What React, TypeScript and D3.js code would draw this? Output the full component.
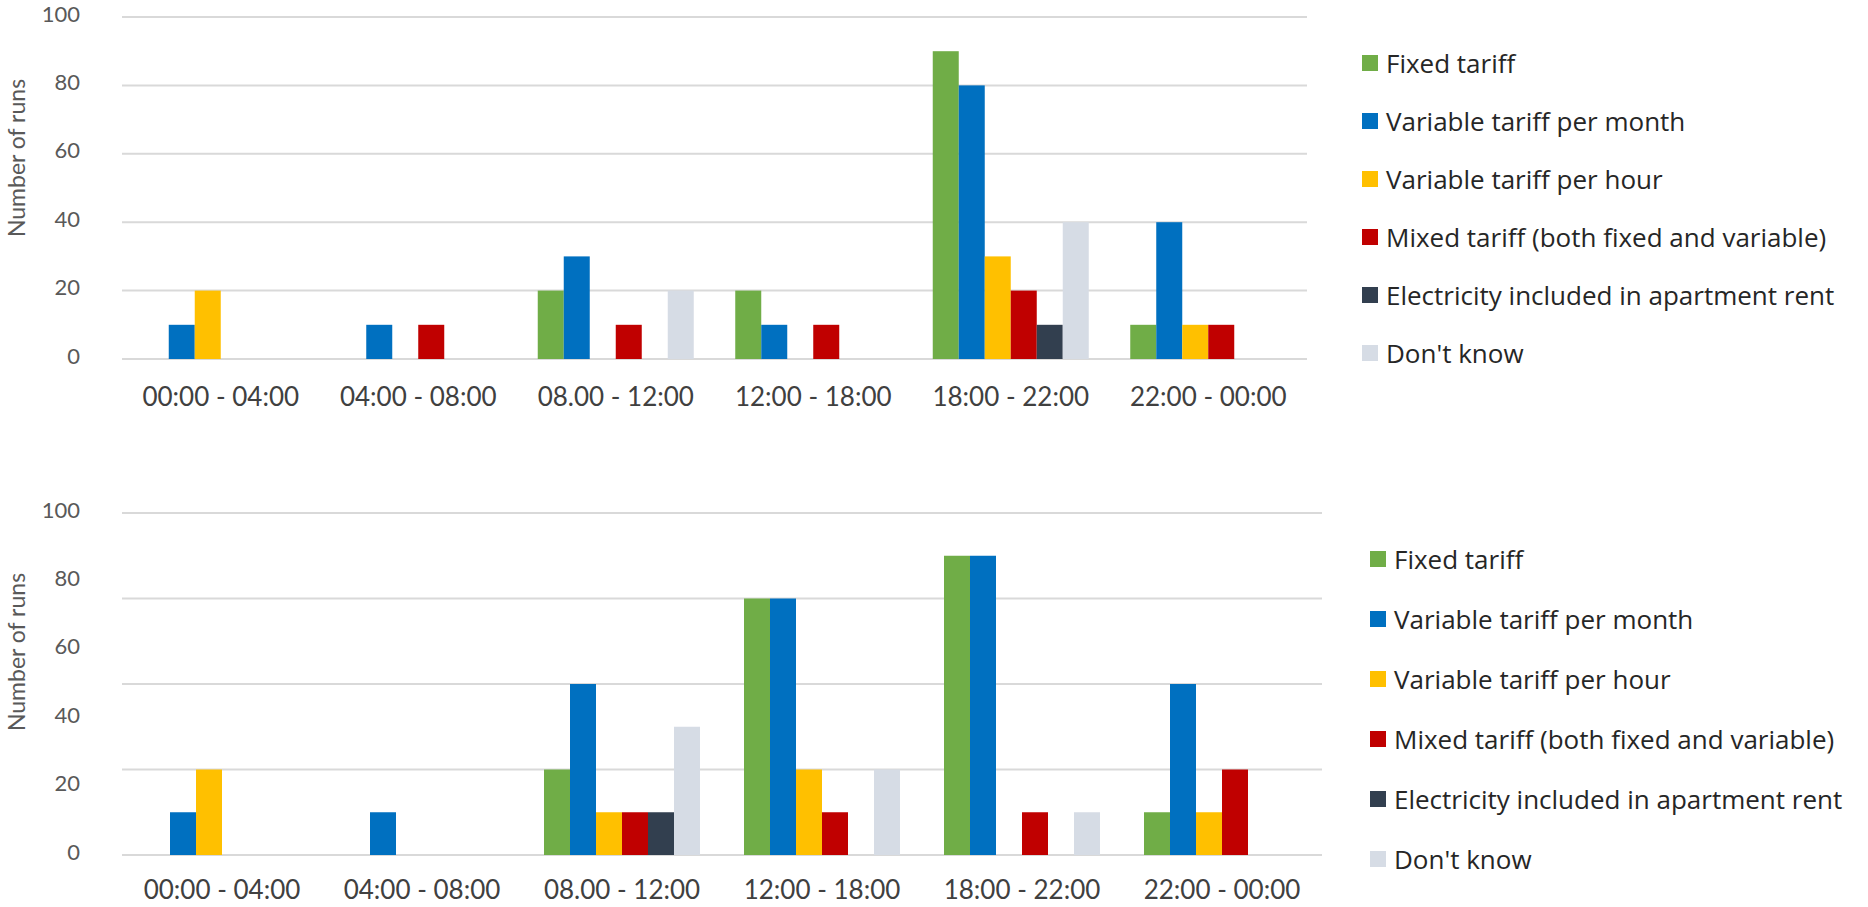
import React from "react";
import * as d3 from "d3";

const categories = ["00:00 - 04:00", "04:00 - 08:00", "08.00 - 12:00", "12:00 - 18:00", "18:00 - 22:00", "22:00 - 00:00"];
const seriesNames = [
  "Fixed tariff",
  "Variable tariff per month",
  "Variable tariff per hour",
  "Mixed tariff (both fixed and variable)",
  "Electricity included in apartment rent",
  "Don't know",
];
const seriesColors = ["#70AD47", "#0070C0", "#FFC000", "#C00000", "#323F4F", "#D6DCE5"];

// values per series, one per category (top chart)
const topFixed = [0, 0, 20, 20, 90, 10];
const topVarMonth = [10, 10, 30, 10, 80, 40];
const topVarHour = [20, 0, 0, 0, 30, 10];
const topMixed = [0, 10, 10, 10, 20, 10];
const topElectricity = [0, 0, 0, 0, 10, 0];
const topDontKnow = [0, 0, 20, 0, 40, 0];

// bottom chart
const botFixed = [0, 0, 25, 75, 87.5, 12.5];
const botVarMonth = [12.5, 12.5, 50, 75, 87.5, 50];
const botVarHour = [25, 0, 12.5, 25, 0, 12.5];
const botMixed = [0, 0, 12.5, 12.5, 12.5, 25];
const botElectricity = [0, 0, 12.5, 0, 0, 0];
const botDontKnow = [0, 0, 37.5, 25, 12.5, 0];

const tickLabels = [0, 20, 40, 60, 80, 100];
const topGridValues = [0, 20, 40, 60, 80, 100];
const botGridValues = [0, 25, 50, 75, 100];

const yAxisTitle = "Number of runs";

type ChartProps = {
  series: number[][];
  x0: number;
  x1: number;
  yBottom: number;
  yTop: number;
  gridValues: number[];
  labelY: number;
  titleY: number;
  legendX: number;
  legendY: number;
  legendStep: number;
};

const FONT = "Lato, 'Open Sans', sans-serif";
const LEGEND_FONT = "'Open Sans', Lato, sans-serif";

function Chart({ series, x0, x1, yBottom, yTop, gridValues, labelY, titleY, legendX, legendY, legendStep }: ChartProps) {
  const x = d3.scaleBand<string>().domain(categories).range([x0, x1]).padding(0);
  const y = d3.scaleLinear().domain([0, 100]).range([yBottom, yTop]);
  const barW = 26;
  const inner = d3
    .scaleBand<number>()
    .domain(d3.range(seriesNames.length))
    .range([0, barW * seriesNames.length])
    .padding(0);
  const groupOffset = (x.bandwidth() - barW * seriesNames.length) / 2;

  return (
    <g>
      {gridValues.map((v) => (
        <line key={"g" + v} x1={x0} x2={x1} y1={y(v)} y2={y(v)} stroke="#D9D9D9" strokeWidth={2} />
      ))}
      {tickLabels.map((v) => (
        <text
          key={"t" + v}
          x={80}
          y={y(v) - 4}
          textAnchor="end"
          dominantBaseline="central"
          fontSize={22}
          fill="#595959"
          fontFamily={FONT}
        >
          {v}
        </text>
      ))}
      <text
        transform={`translate(16, ${titleY}) rotate(-90)`}
        textAnchor="middle"
        dominantBaseline="central"
        fontSize={23}
        fill="#595959"
        fontFamily={FONT}
      >
        {yAxisTitle}
      </text>
      {series.map((vals, si) =>
        vals.map((v, ci) =>
          v > 0 ? (
            <rect
              key={`b${si}-${ci}`}
              x={(x(categories[ci]) as number) + groupOffset + (inner(si) as number)}
              y={y(v)}
              width={inner.bandwidth()}
              height={y(0) - y(v)}
              fill={seriesColors[si]}
            />
          ) : null
        )
      )}
      {categories.map((c) => (
        <text
          key={"c" + c}
          x={(x(c) as number) + x.bandwidth() / 2}
          y={labelY}
          textAnchor="middle"
          dominantBaseline="central"
          fontSize={26}
          fill="#404040"
          fontFamily={FONT}
        >
          {c}
        </text>
      ))}
      {seriesNames.map((n, i) => (
        <g key={"l" + i} transform={`translate(${legendX}, ${legendY + i * legendStep})`}>
          <rect x={0} y={-8} width={16} height={16} fill={seriesColors[i]} />
          <text x={24} y={0} dominantBaseline="central" fontSize={26} fill="#262626" fontFamily={LEGEND_FONT}>
            {n}
          </text>
        </g>
      ))}
    </g>
  );
}

export default function App() {
  const topSeries = [topFixed, topVarMonth, topVarHour, topMixed, topElectricity, topDontKnow];
  const botSeries = [botFixed, botVarMonth, botVarHour, botMixed, botElectricity, botDontKnow];
  return (
    <svg
      width={1868}
      height={907}
      style={{ position: "absolute", left: 0, top: 0, background: "#fff" }}
    >
      <rect width={1868} height={907} fill="#fff" />
      <Chart
        series={topSeries}
        x0={122}
        x1={1307}
        yBottom={359}
        yTop={17}
        gridValues={topGridValues}
        labelY={396}
        titleY={158}
        legendX={1362}
        legendY={63}
        legendStep={58}
      />
      <Chart
        series={botSeries}
        x0={122}
        x1={1322}
        yBottom={855}
        yTop={513}
        gridValues={botGridValues}
        labelY={889}
        titleY={652}
        legendX={1370}
        legendY={559}
        legendStep={60}
      />
    </svg>
  );
}
